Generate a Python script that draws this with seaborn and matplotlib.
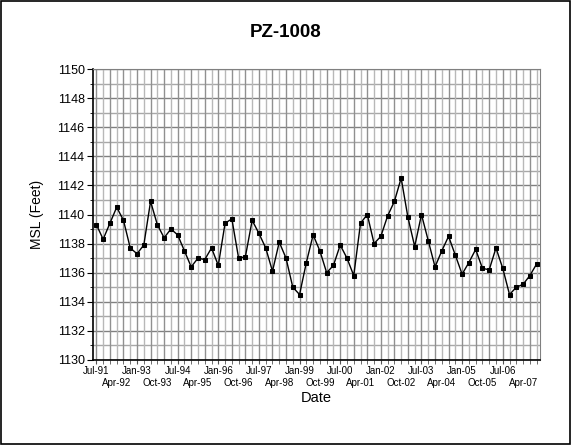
import numpy as np
import pandas as pd
import matplotlib
matplotlib.use("Agg")
import matplotlib.pyplot as plt
import seaborn as sns

# Data (quarterly readings, Jul-91 .. Oct-07)
quarters = pd.period_range("1991Q3", "2007Q4", freq="Q")
msl = [1139.3, 1138.3, 1139.4, 1140.5, 1139.6, 1137.7, 1137.3, 1137.9,
       1140.9, 1139.3, 1138.4, 1139.0, 1138.6, 1137.5, 1136.4, 1137.0,
       1136.9, 1137.7, 1136.5, 1139.4, 1139.7, 1137.0, 1137.1, 1139.6,
       1138.7, 1137.7, 1136.1, 1138.1, 1137.0, 1135.0, 1134.5, 1136.7,
       1138.6, 1137.5, 1136.0, 1136.5, 1137.9, 1137.0, 1135.8, 1139.4,
       1140.0, 1138.0, 1138.5, 1139.9, 1140.9, 1142.5, 1139.8, 1137.8,
       1140.0, 1138.2, 1136.4, 1137.5, 1138.5, 1137.2, 1135.9, 1136.7,
       1137.6, 1136.3, 1136.2, 1137.7, 1136.3, 1134.5, 1135.0, 1135.2,
       1135.8, 1136.6]
date_labels = [q.to_timestamp().strftime("%b-%y") for q in quarters]

df = pd.DataFrame({"idx": np.arange(len(msl)), "msl": msl, "date": date_labels})

# Plot
sns.set_style("white", {"text.color": "black", "axes.labelcolor": "black",
                        "xtick.color": "black", "ytick.color": "black"})
plt.rcParams["font.family"] = ["Liberation Sans", "DejaVu Sans"]

fig = plt.figure(figsize=(5.71, 4.45), dpi=100)
ax = fig.add_axes([93 / 571, 1 - 360 / 445, 447 / 571, 291 / 445])

sns.lineplot(data=df, x="idx", y="msl", ax=ax, color="black", linewidth=1,
             marker="s", markersize=3.5, markeredgecolor="black", zorder=3)

ax.set_xlim(-0.5, len(msl) - 0.5)
ax.set_ylim(1130, 1150)

# y ticks
ax.set_yticks(np.arange(1130, 1151, 2))
ax.set_yticks(np.arange(1131, 1150, 2), minor=True)
ax.tick_params(axis="y", which="major", labelsize=9, length=4, direction="out",
               left=True, color="black", pad=2)
ax.tick_params(axis="y", which="minor", length=2.5, direction="out", left=True)

# x ticks: every quarter, label every third quarter in two alternating rows
row1 = df["idx"][::6]
row2 = df["idx"][3::6]
ax.set_xticks(df["idx"], minor=True)
ax.set_xticks(row1)
ax.set_xticklabels([date_labels[j] for j in row1], fontsize=7)
ax.tick_params(axis="x", which="both", length=3, direction="out", bottom=True,
               pad=1, color="#555555")

sec = ax.secondary_xaxis("bottom")
sec.set_xticks(row2)
sec.set_xticklabels([date_labels[j] for j in row2], fontsize=7)
sec.tick_params(axis="x", length=0, pad=13)
sec.spines["bottom"].set_visible(False)

# grid
for y in np.arange(1130, 1151, 1):
    ax.axhline(y, color="#808080" if y % 2 == 0 else "#a8a8a8", linewidth=1, zorder=1)
for x in df["idx"]:
    ax.axvline(x, color="#909090" if x % 2 == 0 else "#b8b8b8", linewidth=1, zorder=1)

for s in ["top", "right"]:
    ax.spines[s].set_color("#808080")
for s in ["left", "bottom"]:
    ax.spines[s].set_color("black")
    ax.spines[s].set_linewidth(1.2)

ax.set_xlabel("")
sec.set_xlabel("Date", fontsize=10.5, labelpad=2)
ax.set_ylabel("MSL (Feet)", fontsize=10, labelpad=10)
fig.suptitle("PZ-1008", fontsize=13.5, fontweight="bold", y=0.945)

# outer frame
fig.patches.append(plt.Rectangle((0.002, 0.002), 0.996, 0.996, transform=fig.transFigure,
                                 fill=False, edgecolor="black", linewidth=1.2))

fig.savefig("out.png", dpi=100)
